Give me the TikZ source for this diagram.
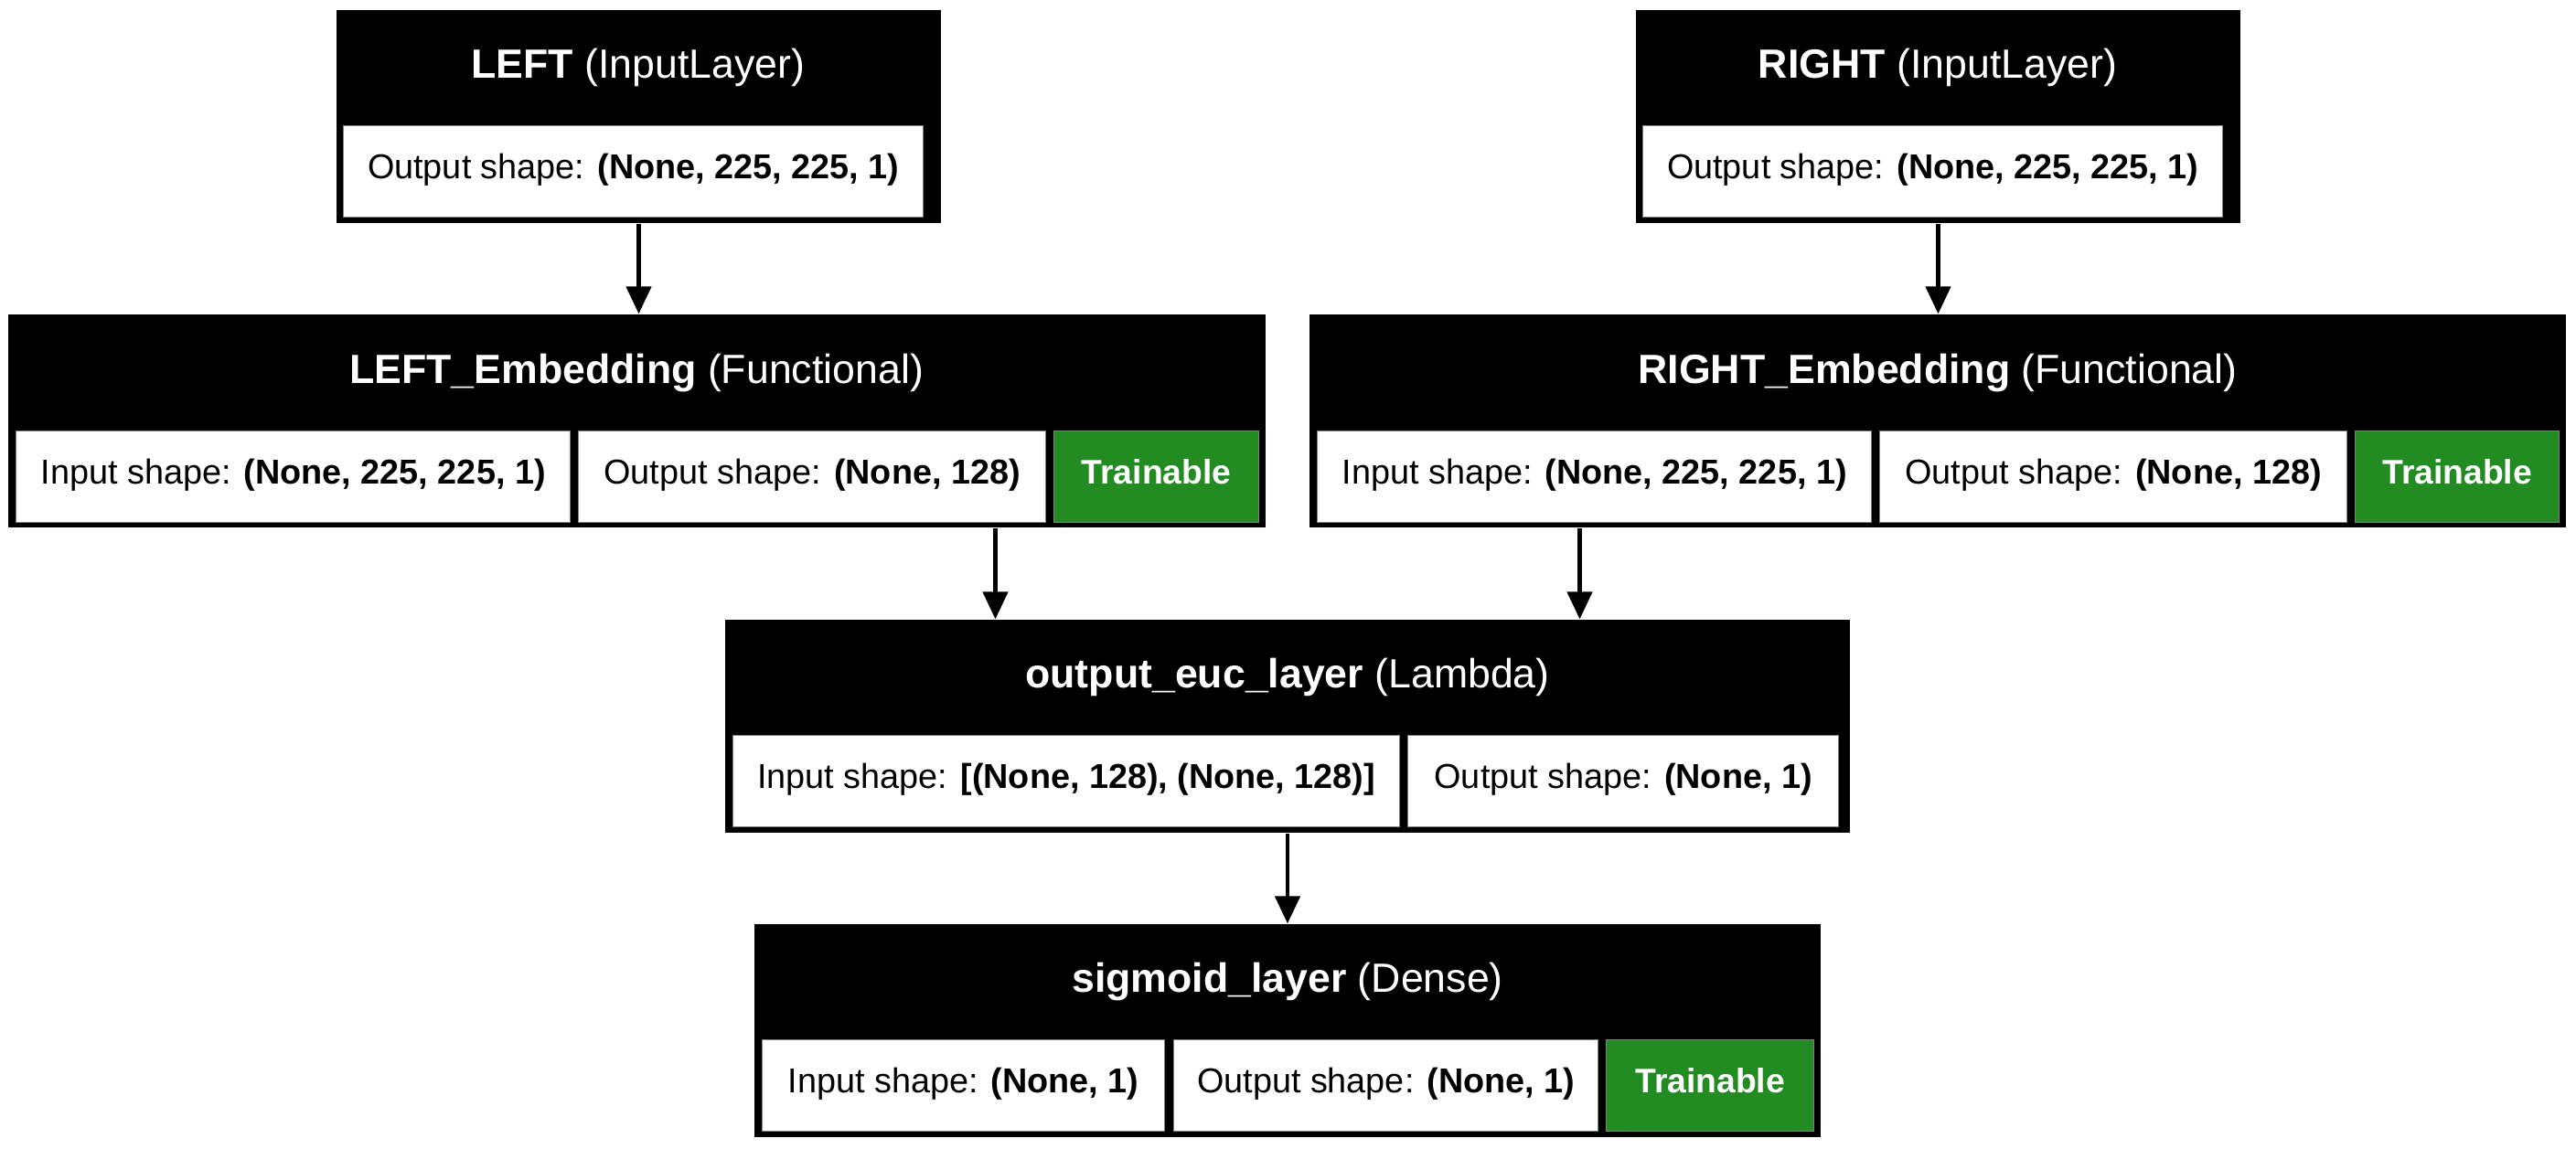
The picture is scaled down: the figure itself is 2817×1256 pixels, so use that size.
\documentclass[tikz,border=0pt]{standalone}
\usepackage{fontspec}
\setmainfont{Liberation Sans}
\usetikzlibrary{fit, calc, arrows.meta}
\definecolor{trainGreen}{RGB}{34,139,34}

\tikzset{
    layer/.style={fill=black, inner sep=0pt},
    cell/.style={fill=white, draw=black!50, line width=0.3pt, inner sep=0pt,
        anchor=north west, minimum height=1cm,
        text height=0.75em, text depth=0.3em,
        font=\fontsize{10.75}{13}\selectfont},
    trainable/.style={cell, fill=trainGreen, text=white,
        font=\fontsize{10.6}{13}\selectfont\bfseries},
    title/.style={text=white, inner sep=0pt, font=\fontsize{12.7}{15}\selectfont},
    flow/.style={-{Triangle[length=8.5pt,width=7.7pt]}, line width=1.2pt}
}

\begin{document}
\begin{tikzpicture}[x=0.01cm, y=-0.01cm]
    \useasboundingbox (0,0) rectangle (2817,1256);

    % input layers
    \node[layer, fit={(368,11) (1029,244)}] (left) {};
    \node[cell, minimum width=6.34cm] (leftout) at (375,137) {Output shape: \textbf{(None, 225, 225, 1)}};
    \node[title] (lefttitle) at (698,74) {\textbf{LEFT} (InputLayer)};

    \node[layer, fit={(1789,11) (2450,244)}] (right) {};
    \node[cell, minimum width=6.34cm] (rightout) at (1796,137) {Output shape: \textbf{(None, 225, 225, 1)}};
    \node[title] (righttitle) at (2119,74) {\textbf{RIGHT} (InputLayer)};

    % embeddings
    \node[layer, fit={(9,344) (1384,577)}] (lemb) {};
    \node[cell, minimum width=6.06cm] (lembin) at (17,471) {Input shape: \textbf{(None, 225, 225, 1)}};
    \node[cell, minimum width=5.11cm] (lembout) at (632,471) {Output shape: \textbf{(None, 128)}};
    \node[trainable, minimum width=2.24cm] (lembtr) at (1152,471) {Trainable};
    \node[title] (lembtitle) at (696,408) {\textbf{LEFT\_Embedding} (Functional)};

    \node[layer, fit={(1432,344) (2806,577)}] (remb) {};
    \node[cell, minimum width=6.06cm] (rembin) at (1440,471) {Input shape: \textbf{(None, 225, 225, 1)}};
    \node[cell, minimum width=5.11cm] (rembout) at (2055,471) {Output shape: \textbf{(None, 128)}};
    \node[trainable, minimum width=2.23cm] (rembtr) at (2575,471) {Trainable};
    \node[title] (rembtitle) at (2119,408) {\textbf{RIGHT\_Embedding} (Functional)};

    % distance layer
    \node[layer, fit={(793,678) (2023,911)}] (euc) {};
    \node[cell, minimum width=7.29cm] (eucin) at (801,804) {Input shape: \textbf{[(None, 128), (None, 128)]}};
    \node[cell, minimum width=4.71cm] (eucout) at (1539,804) {Output shape: \textbf{(None, 1)}};
    \node[title] (euctitle) at (1408,741) {\textbf{output\_euc\_layer} (Lambda)};

    % output layer
    \node[layer, fit={(825,1011) (1991,1244)}] (sig) {};
    \node[cell, minimum width=4.40cm] (sigin) at (833,1137) {Input shape: \textbf{(None, 1)}};
    \node[cell, minimum width=4.64cm] (sigout) at (1283,1137) {Output shape: \textbf{(None, 1)}};
    \node[trainable, minimum width=2.27cm] (sigtr) at (1756,1137) {Trainable};
    \node[title] (sigtitle) at (1408,1074) {\textbf{sigmoid\_layer} (Dense)};

    % arrows
    \coordinate (m1) at ($(lemb.south east)!0.5!(euc.north west)$);
    \coordinate (m2) at ($(remb.south west)!0.5!(euc.north east)$);
    \draw[flow] (left.south) -- (left.south |- lemb.north);
    \draw[flow] (right.south) -- (right.south |- remb.north);
    \draw[flow] (m1 |- lemb.south) -- (m1 |- euc.north);
    \draw[flow] (m2 |- remb.south) -- (m2 |- euc.north);
    \draw[flow] (euc.south) -- (euc.south |- sig.north);
\end{tikzpicture}
\end{document}
